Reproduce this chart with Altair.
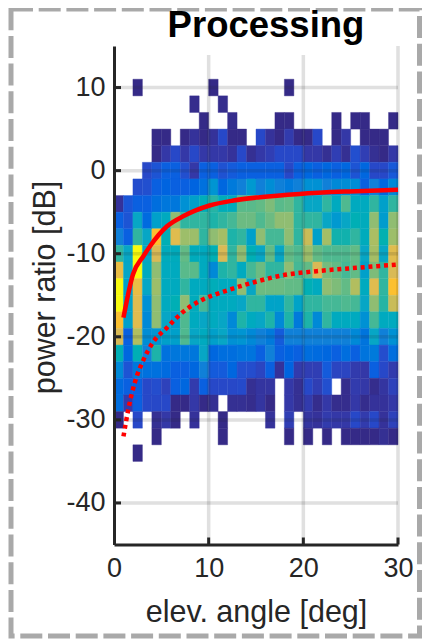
import altair as alt
import pandas as pd

_ = None
row_centers = [10, 8, 6, 4, 2, 0, -2, -4, -6, -8, -10, -12, -14, -16, -18, -20, -22, -24, -26, -28, -30, -32, -34]

r10 = [_,_,0,_,_,_,_,_,_,_,0,_,_,_,_,_,_,_,0,_,_,_,_,_,_,_,_,_,_,_]
r08 = [_,_,_,_,_,_,_,_,0.1,_,_,0.1,_,_,_,_,_,_,_,_,_,_,_,_,_,_,_,_,_,_]
r06 = [_,_,_,_,_,_,_,_,_,0,_,_,0.1,_,_,_,_,0,0,_,_,_,_,0,_,0,0,_,_,0]
r04 = [_,_,_,_,0,0,_,0,0.3,0,0.3,1,0,0,_,1,0.3,0,0.6,0,0,1,_,0,0.5,_,0,0,0,_]
r02 = [_,_,_,_,0,0.5,1,0.5,1,0.5,0.5,0.5,0.3,1,0.2,0.5,0.7,1,1,1,0.5,0.5,0.2,0.7,0.2,1.3,0.7,0.2,0,0.5]
r00 = [_,_,_,1,1.5,2,2,1.3,0.5,2,2,1.4,1.8,2,2,2,2,2,1,2,2.2,2,2.2,2,2.2,1.5,2.2,1,1,1.7]
rm02 = [_,_,1.2,1.3,2,2.1,2,2,2.1,2.5,3.5,2.2,2.8,3,3.6,3,3.3,3,2.8,3,3.4,3.4,3,3.2,3.3,3.3,2,3,2.2,3.2]
rm04 = [0.3,1.6,2,2,2.4,2.7,2.7,3.4,3.8,4.4,4.9,4.4,4.3,5.4,5.4,5.5,5.8,5.4,5.5,5,4,4,5,4.2,5.3,4.2,4.2,5,3.8,5]
rm06 = [2,1.5,4,2.3,3.8,4.2,6,5,5,5,4.8,5,5.2,5.6,5.6,5.3,5.6,6,6,5,5,5,4,3.6,4,4.5,4.3,6,3.7,6]
rm08 = [3,2,5,4,8,4.5,7.2,6.2,6.2,5,6,6.3,4.8,5,3.8,6,5.2,5.2,6,5,6.8,3.8,6.3,4.7,4.7,5,4.3,6.4,4.6,6.2]
rm10 = [5,4,9,4,7,4.3,4.3,5.5,4.3,4.2,4.5,7,5,6,4.5,4,5.5,4,5.5,5.3,6.2,5.5,5.3,5.3,5.3,5.5,4,6.3,4,7.2]
rm12 = [7.5,4,9,4.2,6,4.2,4.2,5.4,5.4,4.2,3.2,4.8,5,4.2,5.2,5.6,5,5,6,5.2,5.5,7,5.7,5.5,5.2,5.5,3.8,5.8,5,7]
rm14 = [9,3.8,7.5,4,6.2,4.2,4.2,5,4.2,4.2,4.4,4.2,4.2,6,4,5.6,5.6,5.6,5.5,5.5,4.5,4.2,6,5.8,5.5,6.5,4.2,7.2,5,8]
rm16 = [9,3.8,7.2,3.4,6,4.2,4.5,6,4.3,5.2,4.2,4.2,4.2,4,5,5,3.9,3.9,5,3.9,5,5,5.2,5.2,5.3,5.2,4,6,4.9,6.8]
rm18 = [8,3.8,7.2,3.2,6,4,3.7,5.3,4.2,4,4.2,4,3.2,4.8,4.2,4,4.8,3.2,4.8,2.8,4.8,3.2,5,4.2,4.2,4.2,3.4,5.2,4.2,4.2]
rm20 = [7,2,6.5,3.3,3.5,3.8,3.8,5.3,4,4.2,3.8,4,3.4,3.5,3.2,3,2.8,1.8,3,3,3,3,3,3,3,3.2,2.6,4,3,3.4]
rm22 = [4.5,2.2,4.5,3,4.8,2.5,2.7,2.7,2.7,4,2.2,2.4,2.4,2.6,2.6,2,3,2,2.1,2,2.4,2.3,2.2,2,2.4,2,2.6,2.8,1.2,2.4]
rm24 = [3.2,1.5,2.7,2.5,2.5,2.3,2,2,2.2,3,1.8,1.8,2.2,1.3,1.2,0.9,2,0.3,2.1,0.6,0.7,0.7,1.8,0.9,0.9,0.6,0.5,2,1,0.6]
rm26 = [2.3,2,2,1,1.2,0.8,2,2.2,0.6,2,1,1,1,1.1,0.2,0.4,0.4,_,0.5,0.2,1,0.7,1.3,_,0.1,0.6,0.5,0.1,0.4,0.8]
rm28 = [2.4,0.6,2,1,1,1,0,0,0.5,0,0.2,_,0.2,0.2,0.1,0.4,0,_,0.5,0.2,0.6,0.1,0.5,0.1,0.1,0.5,0.1,0.3,0.3,0.5]
rm30 = [0,_,1,_,0.2,0.5,0,_,0.3,_,_,0,_,_,_,_,0.3,_,0.7,_,0.4,0.3,0.6,0.5,0.5,1,0.6,1,0.3,0.8]
rm32 = [_,_,_,_,0,_,_,_,_,_,_,0,_,_,_,_,_,_,0,_,0,_,0,_,0,0,0,0,0.2,0]
rm34 = [_,_,0,_,_,_,_,_,_,_,_,_,_,_,_,_,_,_,_,_,_,_,_,_,_,_,_,_,_,_]
rows = [r10, r08, r06, r04, r02, r00, rm02, rm04, rm06, rm08, rm10, rm12, rm14, rm16, rm18, rm20, rm22, rm24, rm26, rm28, rm30, rm32, rm34]

color_levels = [0, 1, 2, 3, 4, 5, 6, 7, 8, 9]
color_stops = ["#352a87", "#2748c8", "#0a60e0", "#1080d8", "#07a6c5", "#30b5a0", "#90bd72", "#d9ba56", "#fcc030", "#f9fb0e"]

solid_x = [1, 2, 3.1, 3.8, 5.6, 7.3, 10.1, 12.6, 15.4, 19.6, 24.9, 30]
solid_y = [-17.7, -12.5, -10.3, -9.1, -6.7, -5.5, -4.2, -3.6, -3.2, -2.8, -2.5, -2.3]
dotted_x = [1, 1.5, 2.2, 3.1, 4.1, 5.6, 7.3, 9.4, 11.5, 14.9, 17.8, 21.4, 25.6, 30]
dotted_y = [-32, -28.8, -25.5, -22.8, -20.7, -18.9, -17, -15.5, -14.6, -13.4, -12.6, -12.1, -11.7, -11.3]

x_ticks = [0, 10, 20, 30]
y_ticks = [10, 0, -10, -20, -30, -40]

cells = []
for c, row in zip(row_centers, rows):
    for i, v in enumerate(row):
        if v is not None:
            cells.append({"x0": i, "x1": i + 1, "y0": c - 1, "y1": c + 1, "v": v})
cells = pd.DataFrame(cells)

W, H = 284, 498.5
FONT = "Liberation Sans"
INK = "#262626"
xs = alt.Scale(domain=[0, 30], nice=False)
ys = alt.Scale(domain=[-45, 15], nice=False)

x_axis = alt.Axis(values=x_ticks, grid=False, ticks=False, zindex=1, domainColor=INK, domainWidth=3,
                  labelFont=FONT, labelFontSize=27, labelColor=INK, labelPadding=11, labelFlush=False,
                  title="elev. angle [deg]", titleFont=FONT, titleFontSize=30.5, titleFontWeight="normal",
                  titleColor=INK, titleX=142, titleY=77, titleAnchor="middle", titleBaseline="alphabetic")
y_axis = alt.Axis(values=y_ticks, grid=False, ticks=False, zindex=1, domainColor=INK, domainWidth=3,
                  labelFont=FONT, labelFontSize=27, labelColor=INK, labelPadding=9,
                  labelExpr="toString(datum.value)",
                  title="power ratio [dB]", titleFont=FONT, titleFontSize=30.5, titleFontWeight="normal",
                  titleColor=INK, titleX=-60, titleY=241, titleAnchor="middle", titleBaseline="alphabetic")

heat = alt.Chart(cells).mark_rect(strokeWidth=0.4).encode(
    x=alt.X("x0:Q", scale=xs, axis=x_axis),
    x2="x1:Q",
    y=alt.Y("y0:Q", scale=ys, axis=y_axis),
    y2="y1:Q",
    color=alt.Color("v:Q", scale=alt.Scale(domain=color_levels, range=color_stops), legend=None),
    stroke=alt.Stroke("v:Q", scale=alt.Scale(domain=color_levels, range=color_stops), legend=None),
)

grid_x = alt.Chart(pd.DataFrame({"x": x_ticks[1:]})).mark_rule(color=INK, opacity=0.14, strokeWidth=3.5).encode(
    x=alt.X("x:Q", scale=xs))
grid_y = alt.Chart(pd.DataFrame({"y": y_ticks})).mark_rule(color=INK, opacity=0.14, strokeWidth=3.5).encode(
    y=alt.Y("y:Q", scale=ys))

solid = alt.Chart(pd.DataFrame({"x": solid_x, "y": solid_y})).mark_line(
    color="#ff0000", strokeWidth=4.5, interpolate="monotone").encode(
    x=alt.X("x:Q", scale=xs), y=alt.Y("y:Q", scale=ys))
dotted = alt.Chart(pd.DataFrame({"x": dotted_x, "y": dotted_y})).mark_line(
    color="#ff0000", strokeWidth=4.5, strokeDash=[4, 3.8], interpolate="monotone").encode(
    x=alt.X("x:Q", scale=xs), y=alt.Y("y:Q", scale=ys))

tick_x = alt.Chart(pd.DataFrame({"x": x_ticks[1:]})).mark_rule(color=INK, strokeWidth=3).encode(
    x=alt.X("x:Q", scale=xs), y=alt.value(H), y2=alt.value(H - 7))
tick_y = alt.Chart(pd.DataFrame({"y": y_ticks})).mark_rule(color=INK, strokeWidth=3).encode(
    y=alt.Y("y:Q", scale=ys), x=alt.value(0), x2=alt.value(7))

title_bg = alt.Chart(pd.DataFrame({"a": [0]})).mark_rect(color="white").encode(
    x=alt.value(51), x2=alt.value(256), y=alt.value(0), y2=alt.value(9))
frame = alt.Chart(pd.DataFrame({"a": [0]})).mark_rect(
    fill="transparent", stroke="#a9a9a9", strokeWidth=5, strokeDash=[22, 5.7]).encode(
    x=alt.value(-103), x2=alt.value(305.5), y=alt.value(-37), y2=alt.value(590))

chart = alt.layer(heat, grid_x, grid_y, solid, dotted, tick_x, tick_y, title_bg, frame).properties(
    width=W, height=H,
    padding={"left": 106, "top": 38, "right": 24, "bottom": 94},
    autosize=alt.AutoSizeParams(type="none"),
    title=alt.TitleParams("Processing", font=FONT, fontSize=36.5, fontWeight="bold", color="black",
                          anchor="middle", dx=10, offset=-37.5),
).resolve_scale(color="shared").configure_view(stroke=None)

chart.save("out.html", embed_options={"renderer": "svg", "actions": False})
